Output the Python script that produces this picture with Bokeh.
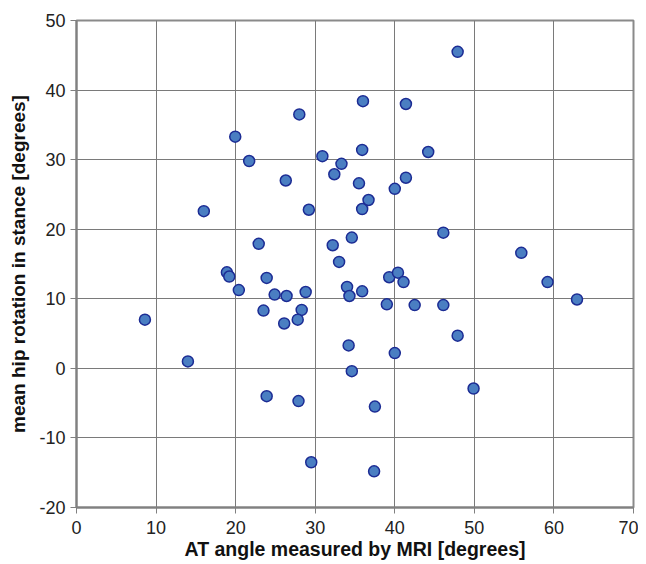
from bokeh.plotting import figure
from bokeh.models import ColumnDataSource, Range1d, FixedTicker
from bokeh.embed import file_html
from bokeh.resources import INLINE

at_angle = [19.95, 28.0, 21.7, 30.9, 33.3, 32.4, 26.3, 16.0, 29.2, 22.9,
            34.6, 32.2, 33.0, 18.9, 19.2, 23.9, 36.0, 35.9, 35.5, 35.9,
            47.9, 41.4, 44.2, 41.4, 40.0, 36.7, 46.1, 55.9, 20.4, 24.9,
            26.4, 28.8, 23.5, 28.3, 27.8, 26.1, 8.6, 14.0, 23.9, 27.9,
            29.5, 34.0, 34.3, 35.9, 34.2, 34.6, 39.3, 40.4, 41.1, 59.2,
            62.9, 39.0, 42.5, 46.1, 47.9, 40.0, 49.9, 37.5, 37.4]
hip_rotation = [33.3, 36.5, 29.8, 30.5, 29.4, 27.9, 27.0, 22.6, 22.8, 17.9,
                18.8, 17.7, 15.3, 13.8, 13.2, 13.0, 38.4, 31.4, 26.6, 22.9,
                45.5, 38.0, 31.1, 27.4, 25.8, 24.2, 19.5, 16.6, 11.25, 10.6,
                10.4, 10.97, 8.3, 8.4, 7.0, 6.45, 7.0, 1.0, -4.0, -4.7,
                -13.5, 11.7, 10.4, 11.07, 3.3, -0.4, 13.1, 13.75, 12.4, 12.4,
                9.9, 9.2, 9.1, 9.1, 4.7, 2.2, -2.9, -5.5, -14.8]
x_ticks = [0, 10, 20, 30, 40, 50, 60, 70]
y_ticks = [-20, -10, 0, 10, 20, 30, 40, 50]

src = ColumnDataSource(data=dict(x=at_angle, y=hip_rotation))

p = figure(width=638, height=563, output_backend="svg", toolbar_location=None,
           x_range=Range1d(0, 70), y_range=Range1d(-20, 50),
           min_border_left=76, min_border_right=5, min_border_top=20,
           min_border_bottom=56)

p.scatter("x", "y", source=src, size=11, fill_color="#4a7ec2",
          line_color="#1c2c94", line_width=1.5)

grid_col = "#7a7a7a"
p.xgrid.grid_line_color = grid_col
p.ygrid.grid_line_color = grid_col
p.xgrid.grid_line_width = 1
p.ygrid.grid_line_width = 1
p.outline_line_color = "#8a8a8a"
p.outline_line_width = 2

for ax, ticks in ((p.xaxis[0], x_ticks), (p.yaxis[0], y_ticks)):
    ax.ticker = FixedTicker(ticks=ticks)
    ax.major_label_overrides = {t: str(t) for t in ticks}
    ax.axis_line_color = "#808080"
    ax.axis_line_width = 2
    ax.major_tick_line_color = "#808080"
    ax.major_tick_line_width = 1
    ax.major_tick_out = 6
    ax.major_tick_in = 0
    ax.minor_tick_line_color = None
    ax.major_label_text_font = "Liberation Sans"
    ax.major_label_text_font_size = "18px"
    ax.major_label_text_color = "#222222"
    ax.axis_label_text_font = "Liberation Sans"
    ax.axis_label_text_font_style = "bold"
    ax.axis_label_text_color = "#111111"

p.xaxis.axis_label = "AT angle measured by MRI [degrees]"
p.yaxis.axis_label = "mean hip rotation in stance [degrees]"
p.xaxis.axis_label_text_font_size = "19.5px"
p.yaxis.axis_label_text_font_size = "19px"
p.xaxis.major_label_standoff = 7
p.xaxis.axis_label_standoff = 1
p.yaxis.major_label_standoff = 5
p.yaxis.axis_label_standoff = 7

open("out.html", "w").write(file_html(p, INLINE))
